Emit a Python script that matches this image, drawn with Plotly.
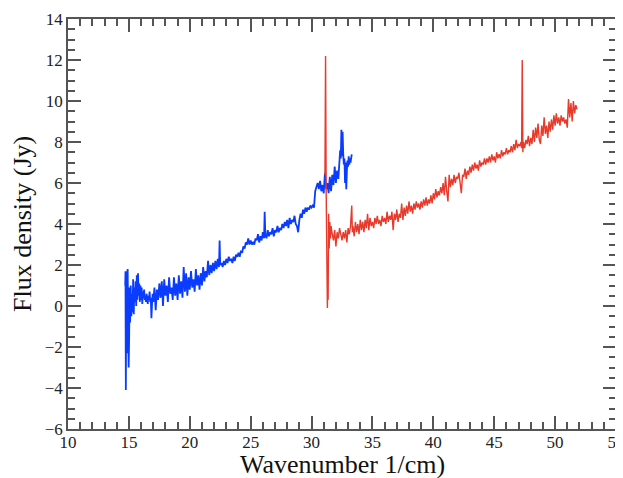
import plotly.graph_objects as go

blue_x = [14.70, 14.72, 14.75, 14.78, 14.82, 14.86, 14.90, 14.94, 14.98, 15.02,
          15.06, 15.10, 15.15, 15.20, 15.25, 15.30, 15.35, 15.40, 15.45, 15.50,
          15.55, 15.60, 15.65, 15.70, 15.75, 15.80, 15.85, 15.90, 15.95, 16.00,
          16.05, 16.10, 16.15, 16.20, 16.25, 16.30, 16.35, 16.40, 16.45, 16.50,
          16.55, 16.60, 16.65, 16.70, 16.75, 16.80, 16.85, 16.90, 16.95, 17.00,
          17.1, 17.2, 17.3, 17.4, 17.5, 17.6, 17.7, 17.8, 17.9, 18.0,
          18.1, 18.2, 18.3, 18.4, 18.5, 18.6, 18.7, 18.8, 18.9, 19.0,
          19.1, 19.2, 19.3, 19.4, 19.5, 19.6, 19.7, 19.8, 19.9, 20.0,
          20.1, 20.2, 20.3, 20.4, 20.5, 20.6, 20.7, 20.8, 20.9, 21.0,
          21.1, 21.2, 21.3, 21.4, 21.5, 21.6, 21.7, 21.8, 21.9, 22.0,
          22.1, 22.2, 22.3, 22.4, 22.45, 22.5, 22.6, 22.7, 22.8, 22.9,
          23.0, 23.1, 23.2, 23.3, 23.4, 23.5, 23.6, 23.7, 23.8, 23.9,
          24.0, 24.1, 24.2, 24.3, 24.4, 24.5, 24.6, 24.7, 24.8, 24.9,
          25.0, 25.1, 25.2, 25.3, 25.4, 25.5, 25.6, 25.7, 25.8, 25.9,
          26.0, 26.1, 26.15, 26.2, 26.3, 26.4, 26.5, 26.6, 26.7, 26.8,
          26.9, 27.0, 27.1, 27.2, 27.3, 27.4, 27.5, 27.6, 27.7, 27.8,
          27.9, 28.0, 28.1, 28.2, 28.3, 28.4, 28.5, 28.6, 28.7, 28.8,
          28.9, 29.0, 29.1, 29.2, 29.3, 29.4, 29.5, 29.6, 29.7, 29.8,
          29.9, 30.0, 30.1, 30.2, 30.3, 30.4, 30.5, 30.6, 30.7, 30.8,
          30.9, 31.0, 31.1, 31.2, 31.3, 31.4, 31.5, 31.6, 31.7, 31.8,
          31.9, 32.0, 32.1, 32.2, 32.3, 32.35, 32.4, 32.45, 32.5, 32.55,
          32.6, 32.65, 32.7, 32.75, 32.8, 32.85, 32.9, 32.95, 33.0, 33.05,
          33.1, 33.15, 33.2, 33.25, 33.3]
blue_y = [1.0, 1.7, -4.1, 0.8, -2.3, 1.6, 1.8, -1.0, -3.0, -1.6,
          0.9, -0.8, 1.0, -0.5, 0.6, -0.3, 1.3, -0.4, 0.9, 0.2,
          1.2, 0.0, 1.5, 0.3, 1.6, 0.5, 1.1, 0.2, 1.0, 0.3,
          0.9, 0.1, 0.7, 0.4, 0.8, 0.3, 0.5, 0.2, 0.6, 0.4,
          0.1, 0.5, 0.3, 0.7, 0.2, 0.4, -0.6, 0.1, 0.6, 0.2,
          0.9, -0.2, 0.8, 0.3, 1.1, 0.4, 1.2, 0.0, 1.3, 0.5,
          1.0, 0.2, 1.4, 0.6, 0.9, 0.3, 1.4, 0.5, 1.1, 0.3,
          1.5, 0.6, 1.2, 0.4, 1.9, 0.7, 1.6, 0.5, 1.4, 0.8,
          1.7, 0.9, 1.3, 0.7, 1.8, 1.0, 1.5, 0.8, 1.6, 1.0,
          1.9, 1.2, 1.7, 1.4, 2.2, 1.5, 2.0, 1.6, 2.1, 1.7,
          2.2, 1.8, 2.3, 1.9, 3.2, 2.0, 2.1, 1.9, 2.2, 2.0,
          2.3, 2.1, 2.4, 2.2, 2.3, 2.1, 2.4, 2.2, 2.5, 2.4,
          2.6, 2.4, 2.7, 2.6, 2.9, 2.8, 3.1, 3.0, 3.3, 3.0,
          3.2, 3.0, 3.1, 3.0, 3.3, 3.2, 3.5, 3.1, 3.4, 3.2,
          3.6, 3.3, 4.6, 3.5, 3.3, 3.7, 3.4, 3.6, 3.5, 3.8,
          3.4, 3.7, 3.6, 3.9, 3.6, 3.8, 3.7, 4.0, 3.8, 4.1,
          3.9, 4.2, 3.8, 4.3, 4.0, 4.2, 4.1, 4.4, 4.0, 3.9,
          3.6, 4.2, 4.5, 4.3, 4.7, 4.5, 4.8, 4.6, 4.8, 4.7,
          4.9, 4.8, 4.9, 4.8, 5.6, 5.8, 6.0, 5.7, 6.1, 5.6,
          5.9, 5.5, 6.5, 5.7, 6.0, 5.5, 6.3, 5.6, 6.4, 5.9,
          6.8, 6.0, 6.6, 6.2, 7.0, 7.6, 7.2, 8.6, 7.3, 8.5,
          7.4, 6.9, 7.2, 6.0, 7.0, 5.7, 6.6, 7.1, 6.8, 7.3,
          6.9, 7.2, 7.0, 7.4, 7.4]

red_x = [31.10, 31.15, 31.20, 31.25, 31.30, 31.33, 31.36, 31.40, 31.45, 31.50,
         31.55, 31.60, 31.70, 31.8, 31.9, 32.0, 32.1, 32.2, 32.3, 32.4,
         32.5, 32.6, 32.7, 32.8, 32.9, 33.0, 33.1, 33.2, 33.3, 33.35,
         33.4, 33.5, 33.6, 33.7, 33.8, 33.9, 34.0, 34.1, 34.2, 34.3,
         34.4, 34.5, 34.6, 34.7, 34.8, 34.9, 35.0, 35.1, 35.2, 35.3,
         35.4, 35.5, 35.6, 35.7, 35.8, 35.9, 36.0, 36.1, 36.2, 36.3,
         36.4, 36.5, 36.6, 36.7, 36.8, 36.9, 37.0, 37.1, 37.2, 37.3,
         37.4, 37.5, 37.6, 37.7, 37.8, 37.9, 38.0, 38.1, 38.2, 38.3,
         38.4, 38.5, 38.6, 38.7, 38.8, 38.9, 39.0, 39.1, 39.2, 39.3,
         39.4, 39.5, 39.6, 39.7, 39.8, 39.9, 40.0, 40.1, 40.2, 40.3,
         40.4, 40.5, 40.6, 40.7, 40.8, 40.9, 41.0, 41.1, 41.2, 41.3,
         41.4, 41.5, 41.6, 41.7, 41.8, 41.9, 42.0, 42.1, 42.2, 42.3,
         42.4, 42.5, 42.6, 42.7, 42.8, 42.9, 43.0, 43.1, 43.2, 43.3,
         43.4, 43.5, 43.6, 43.7, 43.8, 43.9, 44.0, 44.1, 44.2, 44.3,
         44.4, 44.5, 44.6, 44.7, 44.8, 44.9, 45.0, 45.1, 45.2, 45.3,
         45.4, 45.5, 45.6, 45.7, 45.8, 45.9, 46.0, 46.1, 46.2, 46.3,
         46.4, 46.5, 46.6, 46.7, 46.8, 46.9, 47.0, 47.1, 47.2, 47.25,
         47.3, 47.35, 47.4, 47.5, 47.6, 47.7, 47.8, 47.9, 48.0, 48.1,
         48.2, 48.3, 48.4, 48.5, 48.6, 48.7, 48.8, 48.9, 49.0, 49.1,
         49.2, 49.3, 49.4, 49.5, 49.6, 49.7, 49.8, 49.9, 50.0, 50.1,
         50.2, 50.3, 50.4, 50.5, 50.6, 50.7, 50.8, 50.9, 51.0, 51.1,
         51.2, 51.3, 51.4, 51.5, 51.6, 51.7, 51.8]
red_y = [6.4, 12.2, 5.6, 3.0, -0.1, 1.5, 0.3, 4.5, 2.8, 4.1,
         3.3, 3.9, 3.5, 3.2, 3.7, 2.9, 3.6, 3.3, 3.8, 3.4,
         3.2, 3.6, 3.3, 3.7, 3.1, 3.8, 3.5, 3.9, 4.9, 3.6,
         3.9, 3.4, 4.1, 3.6, 4.0, 3.5, 4.2, 3.7, 4.1, 3.6,
         4.2, 3.8, 4.5, 3.7, 4.3, 3.9, 4.1, 3.8, 4.3, 4.0,
         4.4, 4.0, 4.2, 3.9, 4.4, 4.1, 4.3, 4.0, 4.6, 4.1,
         4.4, 4.2, 4.6, 3.7, 4.5, 4.2, 4.7, 4.1, 4.5, 4.3,
         5.0, 4.2, 4.8, 4.4, 4.9, 4.5, 5.1, 4.6, 4.9, 4.5,
         5.0, 4.7, 5.1, 4.8, 5.0, 4.7, 5.1, 4.8, 5.2, 4.9,
         5.3, 4.9, 5.2, 5.0, 5.4, 5.0, 5.5, 5.2, 5.7, 5.3,
         5.6, 5.4, 5.8, 5.5, 6.0, 5.4, 6.3, 5.6, 5.1, 6.4,
         5.8, 6.2, 5.9, 6.4, 6.0, 6.3, 6.2, 6.5, 6.1, 5.5,
         6.4, 6.3, 6.7, 6.2, 6.6, 6.4, 6.8, 6.5, 6.9, 6.6,
         7.0, 6.7, 6.9, 6.6, 7.1, 6.8, 7.0, 6.9, 7.2, 6.9,
         7.2, 7.0, 7.3, 7.0, 7.4, 7.1, 7.3, 7.0, 7.5, 7.2,
         7.4, 7.2, 7.6, 7.3, 7.5, 7.4, 7.7, 7.4, 7.6, 7.5,
         7.8, 7.5, 7.9, 7.6, 8.1, 7.7, 7.9, 7.8, 8.0, 7.7,
         12.0, 7.5, 8.0, 7.7, 8.1, 7.9, 8.3, 7.8, 8.2, 7.9,
         8.6, 8.0, 8.7, 8.2, 8.9, 8.1, 7.9, 8.8, 8.3, 9.2,
         8.4, 8.8, 8.2, 9.0, 8.5, 9.1, 8.6, 9.3, 8.8, 9.4,
         8.9, 9.2, 8.8, 9.3, 9.0, 9.2, 8.9, 9.1, 8.7, 10.1,
         9.2, 9.9, 9.0, 10.0, 9.4, 9.8, 9.6]

x_tick_vals = [10, 15, 20, 25, 30, 35, 40, 45, 50, 55]
y_tick_vals = [-6, -4, -2, 0, 2, 4, 6, 8, 10, 12, 14]
x_title = "Wavenumber 1/cm)"
y_title = "Flux density (Jy)"

SERIF = "Liberation Serif, Times New Roman, Times, serif"

fig = go.Figure()
fig.add_trace(go.Scatter(x=blue_x, y=blue_y, mode="lines",
                         line=dict(color="#0a3cff", width=1.8), showlegend=False))
fig.add_trace(go.Scatter(x=red_x, y=red_y, mode="lines",
                         line=dict(color="#e8392b", width=1.4), showlegend=False))

axis_common = dict(
    showline=True, linecolor="#555555", linewidth=1.5, mirror="allticks",
    ticks="inside", ticklen=13, tickwidth=1.5, tickcolor="#555555",
    showgrid=False, zeroline=False, automargin=False,
    ticklabeloverflow="allow",
    tickfont=dict(family=SERIF, size=17, color="#222222"),
)

fig.update_xaxes(
    range=[10, 55], tickvals=x_tick_vals, ticklabelstandoff=-3,
    minor=dict(ticks="inside", ticklen=7, dtick=1, tickwidth=1.5, tickcolor="#555555"),
    **axis_common,
)
fig.update_yaxes(
    range=[-6, 14], tickvals=y_tick_vals,
    minor=dict(ticks="inside", ticklen=7, dtick=0.5, tickwidth=1.5, tickcolor="#555555"),
    **axis_common,
)

fig.add_annotation(text=x_title, xref="paper", yref="paper", x=0.5, y=0,
                   xanchor="center", yanchor="top", yshift=-19, showarrow=False,
                   font=dict(family=SERIF, size=26, color="#111111"))
fig.add_annotation(text=y_title, xref="paper", yref="paper", x=0, y=0.5,
                   xanchor="center", yanchor="middle", xshift=-46, textangle=-90,
                   showarrow=False,
                   font=dict(family=SERIF, size=26, color="#111111"))

# page body adds an 8px offset on the left and top
fig.update_layout(
    width=615, height=470,
    margin=dict(l=60, r=7, t=11, b=49),
    plot_bgcolor="white", paper_bgcolor="white",
)

fig.write_html("out.html")
